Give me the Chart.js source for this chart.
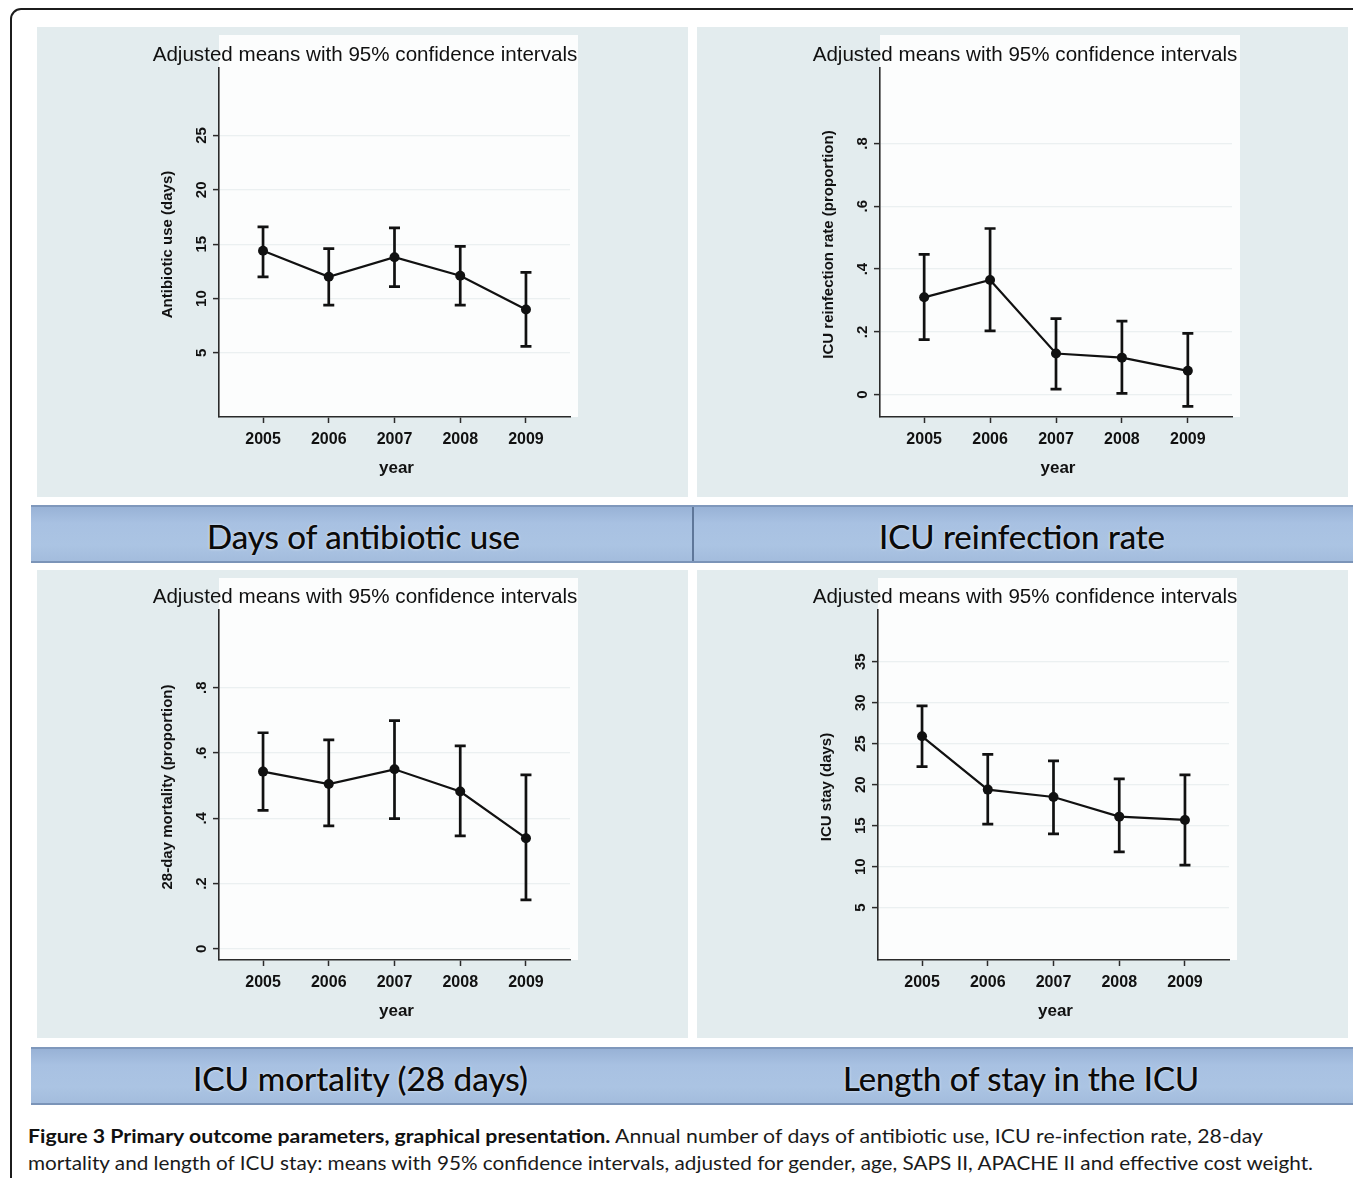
<!DOCTYPE html>
<html>
<head>
<meta charset="utf-8">
<script src="https://cdn.jsdelivr.net/npm/chart.js@4.4.0/dist/chart.umd.min.js"></script>
<style>
  html, body { margin: 0; padding: 0; background: #ffffff; }
  body { position: relative; width: 1353px; height: 1178px; overflow: hidden; font-family: "Liberation Sans", Arial, sans-serif; }
  #frame { position: absolute; left: 10px; top: 8px; width: 1420px; height: 1260px; border: 2px solid #1c1c1c; border-radius: 11px; box-sizing: border-box; }
  .panel { position: absolute; width: 651px; }
  .panel canvas { display: block; }
  .banner { position: absolute; left: 31px; width: 1330px; height: 58px; box-sizing: border-box;
            background: linear-gradient(#98b2d6 0%, #a8c1e2 30%, #abc4e3 70%, #a3bcdd 100%);
            border-top: 2px solid #7f98bc; border-bottom: 2px solid #7b94b8; }
  .banner .divider { position: absolute; left: 661px; top: 0; width: 2px; height: 100%; background: #5f7799; }
  .bt { position: absolute; white-space: nowrap; font-family: Lato, "Open Sans", sans-serif; font-size: 32px; color: #0a0a0a;
        text-shadow: 0 0 3px rgba(255,255,255,0.7), 0 0 0.6px #0a0a0a; transform-origin: 0 50%; line-height: 1; }
  .cap { position: absolute; left: 28px; white-space: nowrap; font-family: Lato, "Open Sans", sans-serif; font-size: 19px; color: #1a1a1a;
         transform-origin: 0 50%; line-height: 1; }
  .cap b { font-weight: 700; color: #111; }
</style>
</head>
<body>
<div id="frame"></div>

<div class="panel" style="left:37px;top:27px;"><canvas id="cAntibiotic" width="651" height="470"></canvas></div>
<div class="panel" style="left:697px;top:27px;"><canvas id="cReinfection" width="651" height="470"></canvas></div>
<div class="panel" style="left:37px;top:570px;"><canvas id="cMortality" width="651" height="468"></canvas></div>
<div class="panel" style="left:697px;top:570px;"><canvas id="cStay" width="651" height="468"></canvas></div>

<div class="banner" style="top:505px;"><div class="divider"></div></div>
<div class="banner" style="top:1047px;"></div>

<div class="bt" data-cx="363" data-cy="537" data-w="313">Days of antibiotic use</div>
<div class="bt" data-cx="1022" data-cy="537" data-w="286">ICU reinfection rate</div>
<div class="bt" data-cx="360" data-cy="1079" data-w="335">ICU mortality (28 days)</div>
<div class="bt" data-cx="1021" data-cy="1079" data-w="356">Length of stay in the ICU</div>

<div class="cap" data-cy="1135" data-w="1235"><b>Figure 3 Primary outcome parameters, graphical presentation.</b> Annual number of days of antibiotic use, ICU re-infection rate, 28-day</div>
<div class="cap" data-cy="1162" data-w="1285">mortality and length of ICU stay: means with 95% confidence intervals, adjusted for gender, age, SAPS II, APACHE II and effective cost weight.</div>

<script>
// Survey years on the horizontal axis
const years = [2005, 2006, 2007, 2008, 2009];
const yearTicks = [2005, 2006, 2007, 2008, 2009];

// Days of antibiotic use: adjusted mean and 95% CI
const antibioticMean = [14.4, 12.0, 13.8, 12.1, 9.0];
const antibioticLow  = [12.0, 9.4, 11.1, 9.4, 5.6];
const antibioticHigh = [16.6, 14.6, 16.5, 14.8, 12.4];
const antibioticTicks = [5, 10, 15, 20, 25];
const antibioticTickLabels = ["5", "10", "15", "20", "25"];

// ICU reinfection rate (proportion)
const reinfectionMean = [0.31, 0.365, 0.131, 0.118, 0.076];
const reinfectionLow  = [0.175, 0.203, 0.018, 0.004, -0.037];
const reinfectionHigh = [0.447, 0.529, 0.242, 0.234, 0.195];

// 28-day mortality (proportion)
const mortalityMean = [0.543, 0.505, 0.550, 0.482, 0.339];
const mortalityLow  = [0.424, 0.377, 0.399, 0.346, 0.150];
const mortalityHigh = [0.662, 0.640, 0.699, 0.622, 0.533];

const proportionTicks = [0, 0.2, 0.4, 0.6, 0.8];
const proportionTickLabels = ["0", ".2", ".4", ".6", ".8"];

// Length of ICU stay (days)
const stayMean = [25.9, 19.4, 18.5, 16.1, 15.7];
const stayLow  = [22.2, 15.2, 14.0, 11.8, 10.2];
const stayHigh = [29.6, 23.7, 22.9, 20.7, 21.2];
const stayTicks = [5, 10, 15, 20, 25, 30, 35];
const stayTickLabels = ["5", "10", "15", "20", "25", "30", "35"];

const chartTitle = "Adjusted means with 95% confidence intervals";
const xTitle = "year";

const INK = "#111111";
const AXIS = "#2a2a2a";
const PANEL_BG = "#e3ecee";
const FONT = "'Liberation Sans', Arial, sans-serif";

// Panel background, white plot region, error bars, title and Stata-style rotated axis text
const stataPlot = {
  id: "stataPlot",
  beforeDraw(chart, args, o) {
    const { ctx, chartArea: a } = chart;
    ctx.save();
    ctx.fillStyle = PANEL_BG;
    ctx.fillRect(0, 0, chart.width, chart.height);
    ctx.fillStyle = "#fcfdfd";
    ctx.fillRect(a.left, 8, a.right - a.left + 8, a.bottom - 8);
    ctx.restore();
  },
  beforeDatasetsDraw(chart, args, o) {
    const { ctx } = chart;
    const xs = chart.scales.x, ys = chart.scales.y;
    ctx.save();
    ctx.strokeStyle = INK;
    ctx.lineWidth = 2.7;
    ctx.lineCap = "butt";
    for (let i = 0; i < o.x.length; i++) {
      const px = xs.getPixelForValue(o.x[i]);
      const lo = ys.getPixelForValue(o.low[i]);
      const hi = ys.getPixelForValue(o.high[i]);
      ctx.beginPath();
      ctx.moveTo(px, lo); ctx.lineTo(px, hi);
      ctx.moveTo(px - 5.5, lo); ctx.lineTo(px + 5.5, lo);
      ctx.moveTo(px - 5.5, hi); ctx.lineTo(px + 5.5, hi);
      ctx.stroke();
    }
    ctx.restore();
  },
  afterDraw(chart, args, o) {
    const { ctx, chartArea: a } = chart;
    const ys = chart.scales.y;
    ctx.save();
    ctx.fillStyle = INK;
    ctx.textAlign = "center";
    ctx.textBaseline = "middle";
    // graph title
    ctx.font = "20.6px " + FONT;
    ctx.fillText(chartTitle, o.titleX, o.titleY);
    // y tick labels, rotated to read bottom-to-top
    ctx.font = "bold 15px " + FONT;
    o.ticks.forEach((v, i) => {
      const py = ys.getPixelForValue(v);
      ctx.save();
      ctx.translate(a.left - 17, py);
      ctx.rotate(-Math.PI / 2);
      ctx.fillText(o.tickLabels[i], 0, 0);
      ctx.restore();
    });
    // y axis title
    ctx.font = "bold 15px " + FONT;
    ctx.save();
    ctx.translate(a.left - 51, (a.top + a.bottom) / 2 + 2);
    ctx.rotate(-Math.PI / 2);
    ctx.fillText(o.yTitle, 0, 0);
    ctx.restore();
    // x axis title
    ctx.font = "bold 17px " + FONT;
    ctx.fillText(xTitle, (a.left + a.right) / 2 + 2, a.bottom + 51);
    ctx.restore();
  }
};

function makeChart(id, cfg) {
  const canvas = document.getElementById(id);
  const H = canvas.height, W = canvas.width;
  return new Chart(canvas, {
    type: "line",
    data: {
      datasets: [{
        data: years.map((yr, i) => ({ x: yr, y: cfg.mean[i] })),
        borderColor: INK,
        borderWidth: 2.2,
        backgroundColor: INK,
        pointBackgroundColor: INK,
        pointBorderColor: INK,
        pointRadius: 5,
        pointBorderWidth: 0,
        tension: 0
      }]
    },
    plugins: [stataPlot],
    options: {
      responsive: false,
      animation: false,
      events: [],
      layout: { padding: { left: 0, right: W - cfg.right, top: cfg.top, bottom: 0 } },
      plugins: {
        legend: { display: false },
        tooltip: { enabled: false },
        title: { display: false },
        stataPlot: {
          x: years, low: cfg.low, high: cfg.high,
          ticks: cfg.ticks, tickLabels: cfg.tickLabels, yTitle: cfg.yTitle,
          titleX: 328, titleY: cfg.titleY
        }
      },
      scales: {
        x: {
          type: "linear",
          min: 2004.33, max: 2009.67,
          afterBuildTicks: s => { s.ticks = yearTicks.map(v => ({ value: v })); },
          afterFit: s => { s.height = H - cfg.bottom; },
          ticks: {
            color: INK,
            padding: 7,
            font: { family: FONT, size: 16, weight: "bold" },
            callback: v => String(v)
          },
          grid: { drawOnChartArea: false, drawTicks: true, tickLength: 6, tickColor: AXIS, tickWidth: 1.5 },
          border: { display: true, color: AXIS, width: 1.6 }
        },
        y: {
          type: "linear",
          min: cfg.min, max: cfg.max,
          afterBuildTicks: s => { s.ticks = cfg.ticks.map(v => ({ value: v })); },
          afterFit: s => { s.width = cfg.left; },
          ticks: { display: false },
          grid: { drawOnChartArea: true, color: "rgba(214,224,226,0.45)", lineWidth: 1.2,
                  drawTicks: true, tickLength: 6, tickColor: AXIS, tickWidth: 1.5 },
          border: { display: true, color: AXIS, width: 1.6 }
        }
      }
    }
  });
}

makeChart("cAntibiotic", {
  mean: antibioticMean, low: antibioticLow, high: antibioticHigh,
  ticks: antibioticTicks, tickLabels: antibioticTickLabels,
  yTitle: "Antibiotic use (days)", min: -0.89, max: 31.2,
  left: 182, right: 533, top: 41, bottom: 390, titleY: 28
});
makeChart("cReinfection", {
  mean: reinfectionMean, low: reinfectionLow, high: reinfectionHigh,
  ticks: proportionTicks, tickLabels: proportionTickLabels,
  yTitle: "ICU reinfection rate (proportion)", min: -0.071, max: 1.04,
  left: 183, right: 535, top: 41, bottom: 390, titleY: 28
});
makeChart("cMortality", {
  mean: mortalityMean, low: mortalityLow, high: mortalityHigh,
  ticks: proportionTicks, tickLabels: proportionTickLabels,
  yTitle: "28-day mortality (proportion)", min: -0.034, max: 1.038,
  left: 182, right: 533, top: 40, bottom: 390, titleY: 27
});
makeChart("cStay", {
  mean: stayMean, low: stayLow, high: stayHigh,
  ticks: stayTicks, tickLabels: stayTickLabels,
  yTitle: "ICU stay (days)", min: -1.38, max: 41.3,
  left: 181, right: 532, top: 40, bottom: 390, titleY: 27
});

// Fit banner headings and caption lines to their widths
document.querySelectorAll(".bt").forEach(el => {
  const r = el.getBoundingClientRect();
  el.style.left = (+el.dataset.cx - (+el.dataset.w) / 2) + "px";
  el.style.top = (+el.dataset.cy - r.height / 2) + "px";
  el.style.transform = "scaleX(" + (+el.dataset.w / r.width) + ")";
});
document.querySelectorAll(".cap").forEach(el => {
  const r = el.getBoundingClientRect();
  el.style.top = (+el.dataset.cy - r.height / 2) + "px";
  el.style.transform = "scaleX(" + (+el.dataset.w / r.width) + ")";
});
</script>
</body>
</html>
